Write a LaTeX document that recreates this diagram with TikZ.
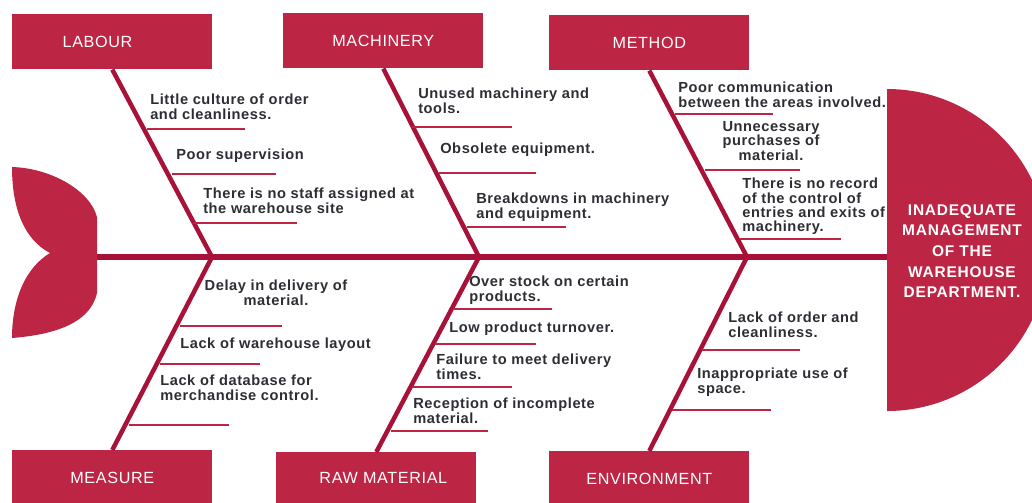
\documentclass[tikz,border=0pt]{standalone}
\usepackage{fontspec}
\setmainfont{Liberation Sans}
\newfontfamily\causefont[LetterSpace=4]{Liberation Sans}
\newfontfamily\catfont[LetterSpace=4]{Liberation Sans}
\newfontfamily\headfont[LetterSpace=5]{Liberation Sans}
\usepackage{tikz}
\definecolor{fishred}{RGB}{189,37,68}
\definecolor{bonered}{RGB}{168,18,56}
\definecolor{causegray}{RGB}{45,45,52}
\tikzstyle{catbox} = [rectangle, minimum width=5cm, minimum height=1.375cm, inner sep=0pt, fill=fishred, text=white,
,anchor=north west, font=\catfont\fontsize{11.5}{12}\selectfont]
\tikzstyle{cause} = [inner sep=0pt, text=causegray, align=left, anchor=north west, font=\causefont\bfseries\fontsize{10.4}{10.2}\selectfont]
\tikzstyle{spine} = [line width=4pt, draw=bonered]
\tikzstyle{bone} = [line width=3.2pt, draw=bonered]
\tikzstyle{twig} = [line width=1.2pt, draw=fishred]

\begin{document}
\begin{tikzpicture}[x=0.025cm, y=-0.025cm]
                \useasboundingbox (0,0) rectangle (1032,502);
                \clip (0,0) rectangle (1032,502);
                % tail
                \fill[fishred] (12,167) .. controls (50,168) and (90,190) .. (97,217) -- (97,293)
                    .. controls (90,325) and (50,335) .. (12,338) .. controls (12,300) and (25,268) .. (50,253)
                    .. controls (25,240) and (12,210) .. (12,167) -- cycle;
                % head
                \begin{scope}
                    \clip (887,0) rectangle (1032,502);
                    \fill[fishred] (887,250) circle [radius=161];
                \end{scope}
                \node (effect) [text=white, align=center, font=\headfont\bfseries\fontsize{11}{14.7}\selectfont] at (962,251)
                    {INADEQUATE\\MANAGEMENT\\OF THE\\WAREHOUSE\\DEPARTMENT.};
                % spine
                \coordinate (tl) at (97,257);
                \coordinate (hd) at (887,257);
                \coordinate (j1) at (212,257);
                \coordinate (j2) at (479,257);
                \coordinate (j3) at (747,257);
                \draw [spine] (tl) -- (hd);
                % categories
                \node (labour) [catbox] at (12,14) {LABOUR\hspace*{21pt}};
                \node (machinery) [catbox] at (283,13) {MACHINERY};
                \node (method) [catbox] at (549,15) {METHOD};
                \node (measure) [catbox] at (12,450) {MEASURE};
                \node (rawmat) [catbox] at (276,452) {\hspace*{10pt}\raisebox{3pt}{RAW MATERIAL}};
                \node (environment) [catbox] at (549,451) {ENVIRONMENT};
                \draw [bone] (labour.south) -- (j1);
                \draw [bone] (machinery.south) -- (j2);
                \draw [bone] (method.south) -- (j3);
                \draw [bone] (j1) -- (measure.north);
                \draw [bone] (j2) -- (rawmat.north);
                \draw [bone] (j3) -- (environment.north);
                % labour
                \node (lab1) [cause] at (150,94) {Little culture of order\\and cleanliness.};
                \node (lab2) [cause] at (176,149) {Poor supervision};
                \node (lab3) [cause] at (203,188) {There is no staff assigned at\\the warehouse site};
                \draw [twig] (147,129) -- (245,129);
                \draw [twig] (172,174) -- (276,174);
                \draw [twig] (193,223) -- (297,223);
                % machinery
                \node (mac1) [cause] at (418,88) {Unused machinery and\\tools.};
                \node (mac2) [cause] at (440,143) {Obsolete equipment.};
                \node (mac3) [cause] at (476,193) {Breakdowns in machinery\\and equipment.};
                \draw [twig] (412,127) -- (512,127);
                \draw [twig] (439,173) -- (536,173);
                \draw [twig] (467,227) -- (566,227);
                % method
                \node (met1) [cause] at (678,82) {Poor communication\\between the areas involved.};
                \node (met2) [cause, anchor=north, align=center] at (771,121) {Unnecessary\\purchases of\\material.};
                \node (met3) [cause] at (742,178) {There is no record\\of the control of\\entries and exits of\\machinery.};
                \draw [twig] (675,114) -- (773,114);
                \draw [twig] (705,170) -- (800,170);
                \draw [twig] (740,239) -- (841,239);
                % measure
                \node (mea1) [cause, anchor=north, align=center] at (276,280) {Delay in delivery of\\material.};
                \node (mea2) [cause] at (180,338) {Lack of warehouse layout};
                \node (mea3) [cause] at (160,375) {Lack of database for\\merchandise control.};
                \draw [twig] (180,326) -- (282,326);
                \draw [twig] (160,364) -- (260,364);
                \draw [twig] (129,425) -- (229,425);
                % raw material
                \node (raw1) [cause] at (469,276) {Over stock on certain\\products.};
                \node (raw2) [cause] at (449,322) {Low product turnover.};
                \node (raw3) [cause] at (436,354) {Failure to meet delivery\\times.};
                \node (raw4) [cause] at (413,398) {Reception of incomplete\\material.};
                \draw [twig] (453,309) -- (552,309);
                \draw [twig] (435,344) -- (536,344);
                \draw [twig] (413,387) -- (512,387);
                \draw [twig] (391,431) -- (488,431);
                % environment
                \node (env1) [cause] at (728,312) {Lack of order and\\cleanliness.};
                \node (env2) [cause] at (697,368) {Inappropriate use of\\space.};
                \draw [twig] (702,350) -- (800,350);
                \draw [twig] (672,410) -- (771,410);
            \end{tikzpicture}
\end{document}
